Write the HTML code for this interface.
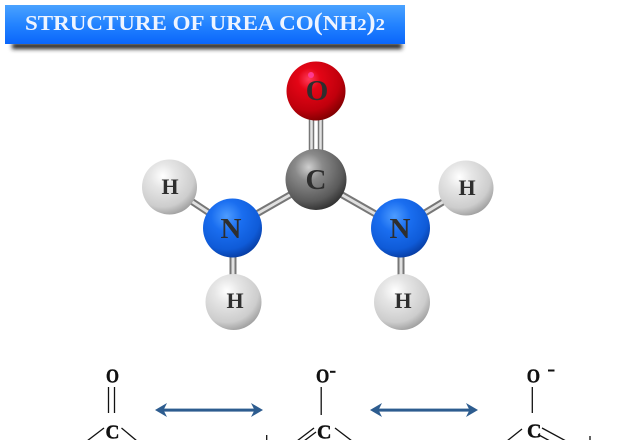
<!DOCTYPE html>
<html><head><meta charset="utf-8">
<style>
html,body{margin:0;padding:0;background:#fff;}
svg{display:block;}
</style></head>
<body>
<svg width="640" height="440" viewBox="0 0 640 440" xmlns="http://www.w3.org/2000/svg">
<defs>
  <linearGradient id="ban" x1="0" y1="0" x2="0" y2="1">
    <stop offset="0" stop-color="#4aa2ff"/>
    <stop offset="0.5" stop-color="#2383ff"/>
    <stop offset="1" stop-color="#0a66fb"/>
  </linearGradient>
  <filter id="blur" x="-10%" y="-100%" width="120%" height="300%">
    <feGaussianBlur stdDeviation="2"/>
  </filter>
  <radialGradient id="gO" cx="0.38" cy="0.3" r="0.75">
    <stop offset="0" stop-color="#ff3a5a"/>
    <stop offset="0.25" stop-color="#e40516"/>
    <stop offset="0.7" stop-color="#c0000c"/>
    <stop offset="1" stop-color="#7a0000"/>
  </radialGradient>
  <radialGradient id="gC" cx="0.38" cy="0.3" r="0.75">
    <stop offset="0" stop-color="#cfcfcf"/>
    <stop offset="0.3" stop-color="#8a8a8a"/>
    <stop offset="0.75" stop-color="#5a5a5a"/>
    <stop offset="1" stop-color="#2c2c2c"/>
  </radialGradient>
  <radialGradient id="gN" cx="0.4" cy="0.3" r="0.75">
    <stop offset="0" stop-color="#4d9cff"/>
    <stop offset="0.35" stop-color="#1a6ef0"/>
    <stop offset="0.75" stop-color="#0f5bd8"/>
    <stop offset="1" stop-color="#06389a"/>
  </radialGradient>
  <radialGradient id="gH" cx="0.38" cy="0.3" r="0.75">
    <stop offset="0" stop-color="#ffffff"/>
    <stop offset="0.3" stop-color="#e6e6e6"/>
    <stop offset="0.75" stop-color="#cdcdcd"/>
    <stop offset="1" stop-color="#9a9a9a"/>
  </radialGradient>
</defs>

<!-- Banner -->
<rect x="12" y="43" width="390" height="6" fill="#222" filter="url(#blur)"/>
<rect x="5" y="5" width="400" height="39" fill="url(#ban)"/>
<text x="25" y="30" font-family="Liberation Serif, serif" font-weight="bold" font-size="21" fill="#eef4ff" textLength="360" lengthAdjust="spacingAndGlyphs">STRUCTURE OF UREA CO<tspan font-size="25">(</tspan>NH<tspan font-size="17">2</tspan><tspan font-size="25">)</tspan><tspan font-size="17">2</tspan></text>

<!-- Bonds -->
<g stroke-linecap="butt">
  <line x1="311.5" y1="112" x2="311.5" y2="158" stroke="#777" stroke-width="5.5"/>
  <line x1="311.5" y1="112" x2="311.5" y2="158" stroke="#e2e2e2" stroke-width="2.5"/>
  <line x1="320.5" y1="112" x2="320.5" y2="158" stroke="#777" stroke-width="5.5"/>
  <line x1="320.5" y1="112" x2="320.5" y2="158" stroke="#e2e2e2" stroke-width="2.5"/>

  <line x1="316" y1="180" x2="232" y2="228" stroke="#777" stroke-width="7"/>
  <line x1="316" y1="180" x2="232" y2="228" stroke="#e0e0e0" stroke-width="3"/>
  <line x1="316" y1="180" x2="400" y2="228" stroke="#777" stroke-width="7"/>
  <line x1="316" y1="180" x2="400" y2="228" stroke="#e0e0e0" stroke-width="3"/>

  <line x1="232" y1="228" x2="170" y2="187" stroke="#777" stroke-width="7"/>
  <line x1="232" y1="228" x2="170" y2="187" stroke="#e0e0e0" stroke-width="3"/>
  <line x1="233" y1="228" x2="233" y2="302" stroke="#777" stroke-width="7"/>
  <line x1="233" y1="228" x2="233" y2="302" stroke="#e0e0e0" stroke-width="3"/>
  <line x1="400" y1="228" x2="466" y2="188" stroke="#777" stroke-width="7"/>
  <line x1="400" y1="228" x2="466" y2="188" stroke="#e0e0e0" stroke-width="3"/>
  <line x1="401" y1="228" x2="401" y2="302" stroke="#777" stroke-width="7"/>
  <line x1="401" y1="228" x2="401" y2="302" stroke="#e0e0e0" stroke-width="3"/>
</g>

<!-- Atoms -->
<circle cx="316" cy="91" r="29.5" fill="url(#gO)"/>
<circle cx="311" cy="75" r="3" fill="#ff3c9a" opacity="0.9"/>
<circle cx="316" cy="179.5" r="30.5" fill="url(#gC)"/>
<circle cx="232.5" cy="228" r="29.5" fill="url(#gN)"/>
<circle cx="400.5" cy="228" r="29.5" fill="url(#gN)"/>
<circle cx="169.5" cy="187" r="27.5" fill="url(#gH)"/>
<circle cx="466" cy="188" r="27.5" fill="url(#gH)"/>
<circle cx="233.5" cy="302" r="28" fill="url(#gH)"/>
<circle cx="402" cy="302" r="28" fill="url(#gH)"/>

<!-- Atom labels -->
<g font-family="Liberation Serif, serif" font-weight="bold" fill="#2e2e2e" text-anchor="middle">
  <text x="317" y="100" font-size="29">O</text>
  <text x="316" y="189" font-size="29">C</text>
  <text x="231" y="238" font-size="29">N</text>
  <text x="400" y="238" font-size="29">N</text>
  <text x="170" y="194" font-size="22">H</text>
  <text x="467" y="195" font-size="22">H</text>
  <text x="235" y="308" font-size="22">H</text>
  <text x="403" y="308" font-size="22">H</text>
</g>

<!-- Resonance structures -->
<g font-family="Liberation Serif, serif" font-weight="bold" fill="#111" stroke="#111" stroke-width="0.4" font-size="20">
  <text x="106" y="382.5" textLength="13" lengthAdjust="spacingAndGlyphs">O</text>
  <text x="105.5" y="438.5" textLength="14" lengthAdjust="spacingAndGlyphs">C</text>
  <text x="316" y="382.7" textLength="13.3" lengthAdjust="spacingAndGlyphs">O</text>
  <text x="317" y="438.3" textLength="14.5" lengthAdjust="spacingAndGlyphs">C</text>
  <text x="526.7" y="382.7" textLength="13.3" lengthAdjust="spacingAndGlyphs">O</text>
  <text x="527" y="437.3" textLength="14.5" lengthAdjust="spacingAndGlyphs">C</text>
</g>
<g fill="#111">
  <rect x="330" y="370.8" width="5.5" height="2"/>
  <rect x="548" y="369.5" width="6.5" height="2"/>
</g>
<g stroke="#111" stroke-width="1.3" fill="none">
  <!-- structure 1 -->
  <line x1="108.5" y1="387" x2="108.5" y2="413"/>
  <line x1="114.5" y1="387" x2="114.5" y2="413"/>
  <line x1="104" y1="428" x2="87" y2="441"/>
  <line x1="121.5" y1="428" x2="137" y2="441"/>
  <!-- structure 2 -->
  <line x1="321.2" y1="387" x2="321.2" y2="415"/>
  <line x1="314" y1="428" x2="297" y2="441"/>
  <line x1="316" y1="432" x2="304" y2="441"/>
  <line x1="335" y1="428" x2="352" y2="441"/>
  <!-- structure 3 -->
  <line x1="532.3" y1="387" x2="532.3" y2="413"/>
  <line x1="522" y1="429" x2="507" y2="441"/>
  <line x1="542" y1="428" x2="566" y2="441"/>
  <line x1="538" y1="434.5" x2="550" y2="441"/>
  <!-- bits -->
  <line x1="266.7" y1="435" x2="266.7" y2="441"/>
  <line x1="590" y1="436" x2="590" y2="441"/>
</g>

<!-- Arrows -->
<g fill="#2d5c8f" stroke="none">
  <rect x="160" y="408.6" width="98" height="3"/>
  <path d="M155,410 L167,403 L163.5,410 L167,417 Z"/>
  <path d="M263,410 L251,403 L254.5,410 L251,417 Z"/>
  <rect x="375" y="408.6" width="98" height="3"/>
  <path d="M370,410 L382,403 L378.5,410 L382,417 Z"/>
  <path d="M478,410 L466,403 L469.5,410 L466,417 Z"/>
</g>
</svg>
</body></html>
